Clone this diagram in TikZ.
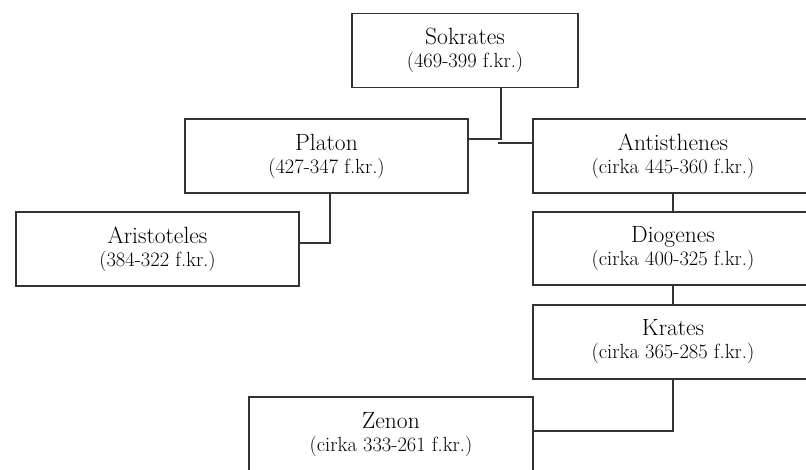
\documentclass[tikz,border=0pt]{standalone}
\usepackage{fontspec}
\begin{document}
\begin{tikzpicture}[x=1pt,y=-1pt,
  pbox/.style={draw=black!80,line width=1.2pt,fill=white,inner sep=0pt,align=center,
    minimum height=74pt,text=black,font=\fontsize{23.5}{23}\selectfont,
    execute at begin node={\vspace*{-4pt}}},
  conn/.style={draw=black!80,line width=1.2pt}]
\useasboundingbox (0,0) rectangle (806,469);
\clip (0,0) rectangle (806,469);
\newcommand{\pdate}[1]{{\fontsize{20.5}{23}\selectfont #1}}
\node[pbox,minimum width=226pt] (sok) at (465,50.5)
  {Sokrates\\\pdate{(469-399 f.kr.)}};
\node[pbox,minimum width=283pt] (pla) at (326.5,156)
  {Platon\\\pdate{(427-347 f.kr.)}};
\node[pbox,minimum width=280pt] (ant) at (673,156)
  {Antisthenes\\\pdate{(cirka 445-360 f.kr.)}};
\node[pbox,minimum width=283pt] (ari) at (157.5,249)
  {Aristoteles\\\pdate{(384-322 f.kr.)}};
\node[pbox,minimum width=280pt,minimum height=73pt] (dio) at (673,248.5)
  {Diogenes\\\pdate{(cirka 400-325 f.kr.)}};
\node[pbox,minimum width=280pt] (kra) at (673,342)
  {Krates\\\pdate{(cirka 365-285 f.kr.)}};
\node[pbox,minimum width=284pt,minimum height=75pt] (zen) at (391,434.5)
  {Zenon\\\pdate{(cirka 333-261 f.kr.)}};
\coordinate (j1) at (501,139);
\coordinate (j2) at (498,143);
\coordinate (j3) at (330,243);
\coordinate (j5) at (673,431);
\draw[conn] (sok.south -| j1) -- (j1) -- (j1 -| pla.east);
\draw[conn] (j2) -- (j2 -| ant.west);
\draw[conn] (pla.south -| j3) -- (j3) -- (j3 -| ari.east);
\draw[conn] (ant.south) -- (dio.north);
\draw[conn] (dio.south) -- (kra.north);
\draw[conn] (kra.south) -- (j5) -- (j5 -| zen.east);
\end{tikzpicture}
\end{document}
